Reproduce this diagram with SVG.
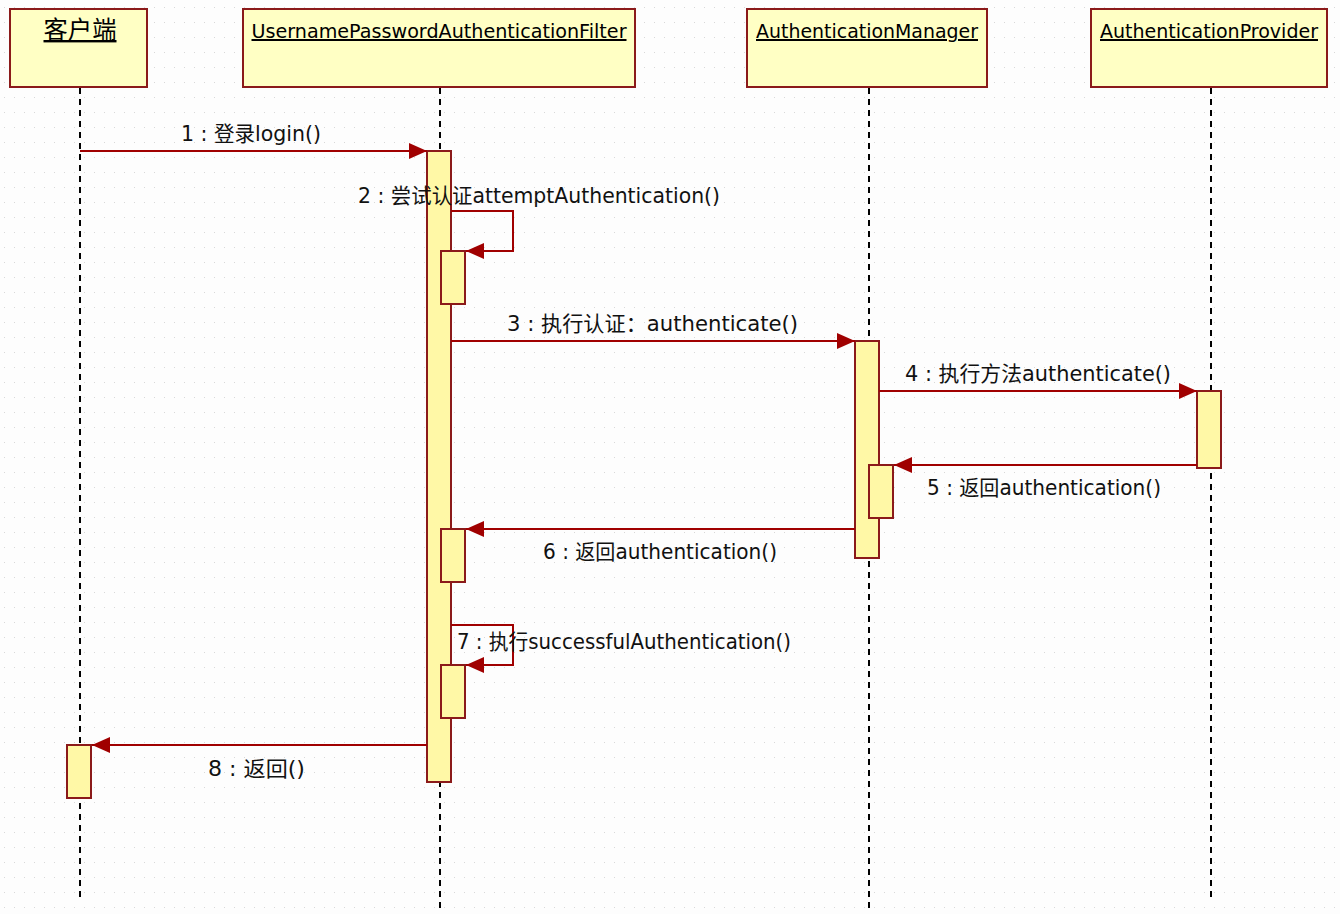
<svg xmlns="http://www.w3.org/2000/svg" width="1340" height="914" viewBox="0 0 1340 914">
<defs>
<pattern id="dots" width="10" height="15" patternUnits="userSpaceOnUse">
<rect x="4" y="7" width="1" height="1" fill="#d8d8d8"/>
</pattern>
<marker id="ah" markerWidth="18" markerHeight="16" refX="18" refY="8" orient="auto" markerUnits="userSpaceOnUse">
<path d="M0,0 L18,8 L0,16 Z" fill="#a00000"/>
</marker>
<style>
.obj{fill:#ffffc4;stroke:#8b1a1a;stroke-width:2}
.act{fill:#fff8a6;stroke:#8b1a1a;stroke-width:2}
.life{stroke:#000;stroke-width:2;stroke-dasharray:6,5;fill:none}
.msg{stroke:#a00000;stroke-width:2;fill:none;marker-end:url(#ah)}
.hd{font-family:"DejaVu Sans","Noto Sans CJK SC",sans-serif;font-size:20px;fill:#000;text-decoration:underline}
.lb{font-family:"DejaVu Sans","Noto Sans CJK SC",sans-serif;font-size:21px;fill:#111}
</style>
</defs>
<rect width="1340" height="914" fill="#fdfdfd"/>
<rect width="1340" height="914" fill="url(#dots)"/>

<g id="lifelines">
<line class="life" x1="80" y1="88" x2="80" y2="900"/>
<line class="life" x1="440" y1="88" x2="440" y2="910"/>
<line class="life" x1="869" y1="88" x2="869" y2="910"/>
<line class="life" x1="1211" y1="88" x2="1211" y2="900"/>
</g>

<g id="client">
<rect class="obj" x="10" y="9" width="137" height="78"/>
<text class="hd" x="80" y="38" text-anchor="middle" style="font-size:24px" textLength="73" lengthAdjust="spacingAndGlyphs">客户端</text>
</g>
<g id="filter">
<rect class="obj" x="243" y="9" width="392" height="78"/>
<text class="hd" x="439" y="38" text-anchor="middle" textLength="375" lengthAdjust="spacingAndGlyphs">UsernamePasswordAuthenticationFilter</text>
</g>
<g id="manager">
<rect class="obj" x="747" y="9" width="240" height="78"/>
<text class="hd" x="867" y="38" text-anchor="middle" textLength="222" lengthAdjust="spacingAndGlyphs">AuthenticationManager</text>
</g>
<g id="provider">
<rect class="obj" x="1091" y="9" width="236" height="78"/>
<text class="hd" x="1209" y="38" text-anchor="middle" textLength="218" lengthAdjust="spacingAndGlyphs">AuthenticationProvider</text>
</g>

<g id="activations">
<rect class="act" x="427" y="151" width="24" height="631"/>
<rect class="act" x="441" y="251" width="24" height="53"/>
<rect class="act" x="441" y="529" width="24" height="53"/>
<rect class="act" x="441" y="665" width="24" height="53"/>
<rect class="act" x="855" y="341" width="24" height="217"/>
<rect class="act" x="869" y="465" width="24" height="53"/>
<rect class="act" x="1197" y="391" width="24" height="77"/>
<rect class="act" x="67" y="745" width="24" height="53"/>
</g>

<g id="connectors">
<line class="msg" x1="80" y1="151" x2="427" y2="151"/>
<polyline class="msg" points="451,211 513,211 513,251 466,251"/>
<line class="msg" x1="451" y1="341" x2="855" y2="341"/>
<line class="msg" x1="879" y1="391" x2="1197" y2="391"/>
<line class="msg" x1="1197" y1="465" x2="894" y2="465"/>
<line class="msg" x1="855" y1="529" x2="466" y2="529"/>
<polyline class="msg" points="451,625 513,625 513,665 466,665"/>
<line class="msg" x1="427" y1="745" x2="92" y2="745"/>
</g>

<g id="labels">
<text class="lb" x="181" y="141" textLength="140" lengthAdjust="spacingAndGlyphs">1 : 登录login()</text>
<text class="lb" x="358" y="203" textLength="362" lengthAdjust="spacingAndGlyphs">2 : 尝试认证attemptAuthentication()</text>
<text class="lb" x="507" y="331" textLength="291" lengthAdjust="spacingAndGlyphs">3 : 执行认证：authenticate()</text>
<text class="lb" x="905" y="381" textLength="266" lengthAdjust="spacingAndGlyphs">4 : 执行方法authenticate()</text>
<text class="lb" x="927" y="495" textLength="234" lengthAdjust="spacingAndGlyphs">5 : 返回authentication()</text>
<text class="lb" x="543" y="559" textLength="234" lengthAdjust="spacingAndGlyphs">6 : 返回authentication()</text>
<text class="lb" x="457" y="649" textLength="334" lengthAdjust="spacingAndGlyphs">7 : 执行successfulAuthentication()</text>
<text class="lb" x="208" y="776" textLength="97" lengthAdjust="spacingAndGlyphs">8 : 返回()</text>
</g>
</svg>
